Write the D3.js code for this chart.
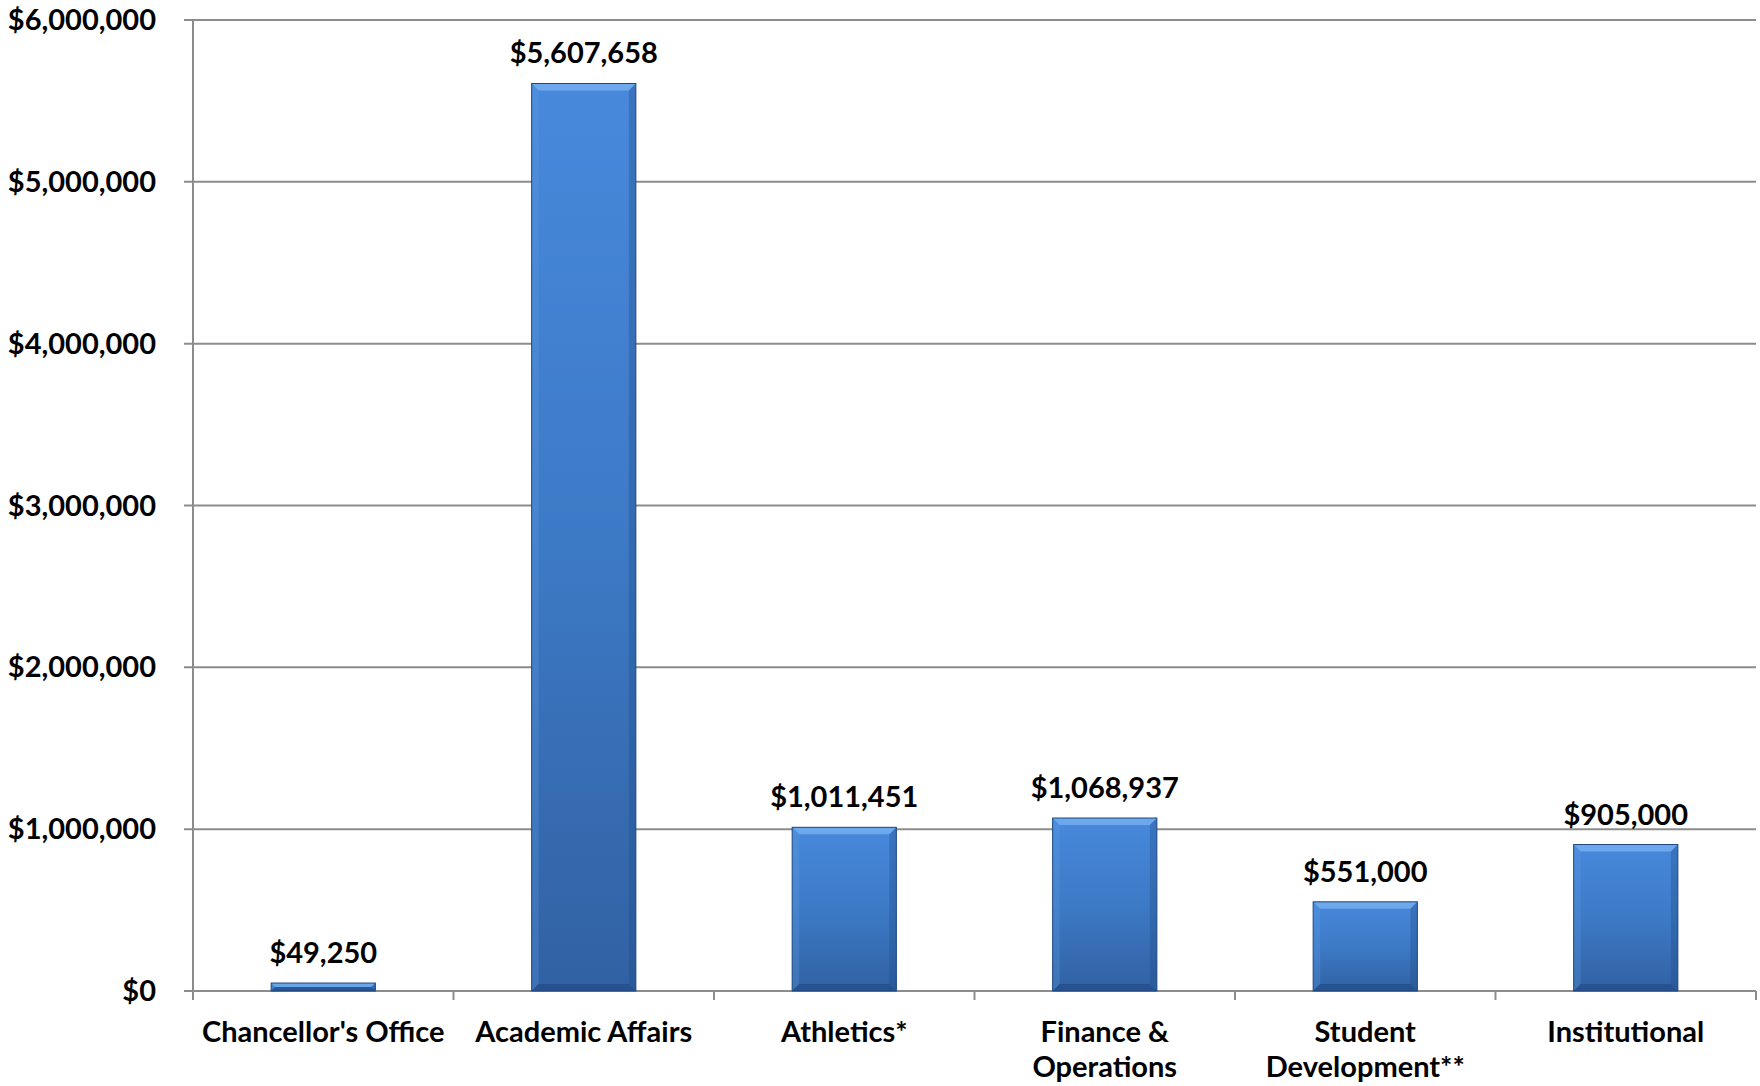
<!DOCTYPE html>
<html>
<head>
<meta charset="utf-8">
<script src="https://cdn.jsdelivr.net/npm/d3@7"></script>
<style>
  html, body { margin: 0; padding: 0; background: #fff; }
  svg { display: block; }
  text { font-family: Lato, "Open Sans", sans-serif; font-weight: 700; fill: #000; }
</style>
</head>
<body>
<svg id="chart" width="1760" height="1086"></svg>
<script>
// Budget by division
const categories = [
  ["Chancellor's Office"],
  ["Academic Affairs"],
  ["Athletics*"],
  ["Finance &", "Operations"],
  ["Student", "Development**"],
  ["Institutional"]
];
const values = [49250, 5607658, 1011451, 1068937, 551000, 905000];
const yTicks = [0, 1000000, 2000000, 3000000, 4000000, 5000000, 6000000];

const svg = d3.select("#chart");
const margin = { left: 193, right: 4, top: 20, bottom: 95 };
const W = 1760, H = 1086;
const FS = 29;

const x = d3.scaleBand()
  .domain(d3.range(values.length))
  .range([margin.left, W - margin.right])
  .paddingInner(0.6)
  .paddingOuter(0.3);

const y = d3.scaleLinear()
  .domain([0, 6000000])
  .range([H - margin.bottom, margin.top]);

const money = v => "$" + d3.format(",")(v);

// gradient for the bar faces
const defs = svg.append("defs");
const grad = defs.append("linearGradient")
  .attr("id", "barFill").attr("x1", 0).attr("y1", 0).attr("x2", 0).attr("y2", 1);
grad.append("stop").attr("offset", "0%").attr("stop-color", "#4889dc");
grad.append("stop").attr("offset", "50%").attr("stop-color", "#3d7ac6");
grad.append("stop").attr("offset", "100%").attr("stop-color", "#3161a3");

// horizontal gridlines
svg.append("g")
  .selectAll("line")
  .data(yTicks)
  .join("line")
  .attr("x1", margin.left - 9)
  .attr("x2", W - margin.right)
  .attr("y1", d => y(d))
  .attr("y2", d => y(d))
  .attr("stroke", "#8c8c8c")
  .attr("stroke-width", 2);

// vertical axis line
svg.append("line")
  .attr("x1", margin.left).attr("x2", margin.left)
  .attr("y1", y(6000000)).attr("y2", y(0) + 9)
  .attr("stroke", "#8c8c8c").attr("stroke-width", 2);

// category boundary ticks under the baseline
const boundaries = d3.range(values.length + 1).map(i => margin.left + i * (W - margin.right - margin.left) / values.length);
svg.append("g")
  .selectAll("line")
  .data(boundaries.slice(1))
  .join("line")
  .attr("x1", d => d).attr("x2", d => d)
  .attr("y1", y(0)).attr("y2", y(0) + 9)
  .attr("stroke", "#8c8c8c").attr("stroke-width", 2);

// y tick labels
svg.append("g")
  .selectAll("text")
  .data(yTicks)
  .join("text")
  .attr("x", 156)
  .attr("y", d => y(d) + 10)
  .attr("text-anchor", "end")
  .attr("font-size", FS)
  .text(d => money(d));

// bars
const bars = svg.append("g")
  .selectAll("g")
  .data(values)
  .join("g");

bars.each(function (v, i) {
  const g = d3.select(this);
  const bx = x(i), bw = x.bandwidth();
  const by = y(v), bh = y(0) - y(v);
  const b = Math.min(7, bh / 2);
  g.append("rect")
    .attr("x", bx).attr("y", by).attr("width", bw).attr("height", bh)
    .attr("fill", "url(#barFill)");
  // bevel facets
  const facets = [
    { pts: [[bx, by], [bx + bw, by], [bx + bw - b, by + b], [bx + b, by + b]], fill: "#7db7f3", op: 0.7 },
    { pts: [[bx, by], [bx + b, by + b], [bx + b, by + bh - b], [bx, by + bh]], fill: "#5e9be0", op: 0.3 },
    { pts: [[bx + bw, by], [bx + bw, by + bh], [bx + bw - b, by + bh - b], [bx + bw - b, by + b]], fill: "#1f4c8a", op: 0.35 },
    { pts: [[bx, by + bh], [bx + b, by + bh - b], [bx + bw - b, by + bh - b], [bx + bw, by + bh]], fill: "#1d467f", op: 0.55 }
  ];
  g.selectAll("polygon")
    .data(facets)
    .join("polygon")
    .attr("points", d => d.pts.map(p => p.join(",")).join(" "))
    .attr("fill", d => d.fill)
    .attr("opacity", d => d.op);
  g.append("rect")
    .attr("x", bx).attr("y", by).attr("width", bw).attr("height", bh)
    .attr("fill", "none").attr("stroke", "#1e477f").attr("stroke-width", 1);
});

// value labels
svg.append("g")
  .selectAll("text")
  .data(values)
  .join("text")
  .attr("x", (d, i) => x(i) + x.bandwidth() / 2)
  .attr("y", d => y(d) - 20)
  .attr("text-anchor", "middle")
  .attr("font-size", FS)
  .text(d => money(d));

// category labels
const catLabels = svg.append("g")
  .selectAll("text")
  .data(categories)
  .join("text")
  .attr("x", (d, i) => x(i) + x.bandwidth() / 2)
  .attr("y", 1042)
  .attr("text-anchor", "middle")
  .attr("font-size", FS);
catLabels.selectAll("tspan")
  .data(d => d)
  .join("tspan")
  .attr("x", function () { return d3.select(this.parentNode).attr("x"); })
  .attr("dy", (d, j) => j === 0 ? 0 : 35)
  .text(d => d);
</script>
</body>
</html>
